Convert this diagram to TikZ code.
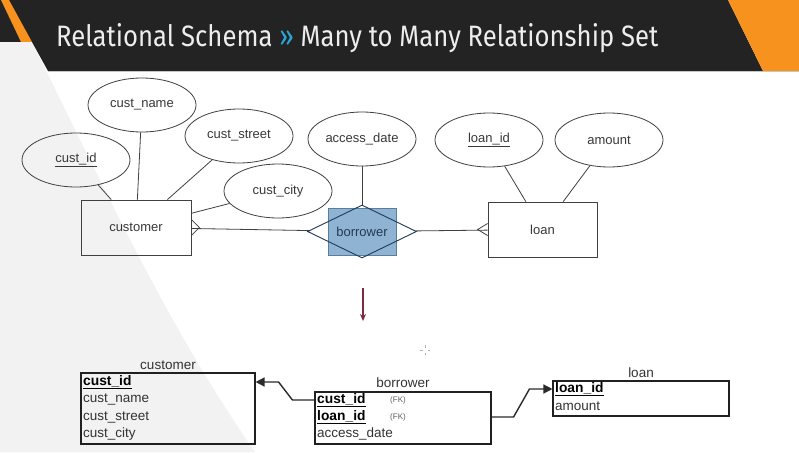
\documentclass[tikz,border=0pt]{standalone}
\usepackage{graphicx}
\usepackage{fontspec}
\setmainfont{Liberation Sans}
\newfontfamily\titlefont{Fira Sans}
\usetikzlibrary{shapes.geometric,arrows.meta,calc}
\definecolor{bannerdark}{HTML}{232323}
\definecolor{orangec}{HTML}{F8921E}
\definecolor{titlewhite}{HTML}{EDEDED}
\definecolor{chev}{HTML}{2BA8D8}
\definecolor{bggray}{HTML}{F2F2F2}
\definecolor{erline}{HTML}{404040}
\definecolor{ertext}{HTML}{383838}
\definecolor{relblue}{HTML}{8FB3D3}
\definecolor{relborder}{HTML}{5A7D9C}
\definecolor{diamline}{HTML}{1F3B57}
\definecolor{diamtext}{HTML}{233A52}
\definecolor{tabline}{HTML}{202020}
\definecolor{tabtext}{HTML}{333333}
\definecolor{fkcol}{HTML}{2A2A2A}
\definecolor{arrowred}{HTML}{7D2B3C}
\begin{document}
\begin{tikzpicture}[x=1pt,y=-1pt,
  attr/.style={ellipse, draw=erline, line width=0.8pt, minimum width=108pt, minimum height=54pt, inner sep=0pt, font=\fontsize{13}{15}\selectfont, text=ertext},
  ent/.style={rectangle, draw=erline, line width=0.8pt, minimum width=110pt, minimum height=55pt, inner sep=0pt, font=\fontsize{13}{15}\selectfont, text=ertext},
  erl/.style={draw=erline, line width=0.8pt},
  tab/.style={rectangle, draw=tabline, line width=1.1pt, inner sep=0pt},
  row/.style={anchor=west, inner sep=0pt, text height=10pt, text depth=3pt, font=\fontsize{13.5}{15}\selectfont, text=tabtext},
  keyrow/.style={row, font=\bfseries\fontsize{13.8}{15}\selectfont, text=black},
  tlabel/.style={inner sep=0pt, font=\fontsize{13.5}{15}\selectfont, text=tabtext},
  fk/.style={inner sep=0pt, font=\fontsize{8}{9}\selectfont, text=tabtext!80},
  fkline/.style={draw=fkcol, line width=1.4pt}
]
\useasboundingbox (0,0) rectangle (799,452);
\fill[white] (0,0) rectangle (799,452);
% background
\fill[bggray] (0,42) -- (32,42) .. controls (110,200) and (170,330) .. (255,452) -- (0,452) -- cycle;
% banner
\fill[bannerdark] (0,0) -- (728,0) -- (763,71) -- (48,71) -- (32,42) -- (0,42) -- cycle;
\fill[orangec] (1,0) -- (9,0) -- (32,42) -- (21,42) -- cycle;
\fill[orangec] (728,0) -- (799,0) -- (799,71) -- (763,71) -- cycle;
\draw[gray!45, line width=1pt] (48,71.8) -- (799,71.8);
\node[anchor=base west, inner sep=0pt, text=titlewhite] (title) at (56,46)
  {\resizebox{602pt}{23pt}{\titlefont Relational Schema \textcolor{chev}{»} Many to Many Relationship Set}};

% ER diagram
\node[attr] (cid) at (76,160) {\underline{cust\_id}};
\node[attr] (cname) at (142,105) {cust\_name};
\node[attr] (cstreet) at (239,136) {cust\_street};
\node[attr] (ccity) at (278,191) {cust\_city};
\node[attr] (adate) at (362,139) {access\_date};
\node[attr] (lid) at (489,140) {\underline{loan\_id}};
\node[attr] (amt) at (609,140) {amount};
\node[ent] (cust) at (136,227.5) {customer};
\node[ent, minimum width=109pt] (loan) at (542.5,229.5) {loan};
\node[fill=relblue, draw=relborder, line width=0.8pt, minimum width=68pt, minimum height=47pt, inner sep=0pt] (bbox) at (362,231.5) {};
\node[diamond, draw=diamline, line width=0.9pt, minimum width=109pt, minimum height=53pt, inner sep=0pt] (borr) at (362,231.5) {};
\node[font=\fontsize{13}{15}\selectfont, text=diamtext, inner sep=0pt] (borrtxt) at (borr) {borrower};

\draw[erl] (cid) -- (cust);
\draw[erl] (cname) -- (cust);
\draw[erl] (cstreet) -- (cust);
\draw[erl] (ccity) -- (cust);
\draw[erl] (adate) -- (borr);
\draw[erl] (lid) -- (loan);
\draw[erl] (amt) -- (loan);
\draw[erl] (cust) -- (borr);
\draw[erl] (borr) -- (loan);
\coordinate (cfa) at ($(cust.east)+(8,0)$);
\draw[erl] ($(cust.east)+(0,-8)$) -- (cfa) -- ($(cust.east)+(0,8)$);
\coordinate (lfa) at ($(loan.west)+(-10,0)$);
\draw[erl] ($(loan.west)+(0,-6)$) -- (lfa) -- ($(loan.west)+(0,6)$);

% down arrow
\coordinate (da1) at (363,288);
\coordinate (da2) at (363,321);
\draw[draw=arrowred, line width=1.6pt, -{Stealth[length=7pt,width=6pt]}] (da1) -- (da2);

% cursor mark
\draw[gray!60, line width=0.5pt] (425,345) -- (425,347.5) (425,352.5) -- (425,355) (420,350) -- (422.5,350) (427.5,350) -- (430,350);

% customer table
\node[tab, minimum width=174pt, minimum height=71pt] (ctab) at (168,408.5) {};
\node[tlabel] (ctl) at (168,365) {customer};
\node[keyrow] (ccid) at (83,382) {\underline{cust\_id}};
\node[row] (ccn) at (83,399) {cust\_name};
\node[row] (ccs) at (83,416.5) {cust\_street};
\node[row] (ccc) at (83,433.5) {cust\_city};

% borrower table
\node[tab, minimum width=176pt, minimum height=52pt] (btab) at (403,418) {};
\node[tlabel] (btl) at (403,383) {borrower};
\node[keyrow] (bcid) at (317,400) {\underline{cust\_id}};
\node[fk] (bfk1) at (398,400) {(FK)};
\node[keyrow] (blid) at (317,417) {\underline{loan\_id}};
\node[fk] (bfk2) at (398,417) {(FK)};
\node[row] (bad) at (317,434) {access\_date};

% loan table
\node[tab, minimum width=176pt, minimum height=35pt] (ltab) at (641,398.5) {};
\node[tlabel] (ltl) at (641,373) {loan};
\node[keyrow] (llid) at (555,389) {\underline{loan\_id}};
\node[row] (lam) at (555,407) {amount};

% foreign key connectors
\draw[fkline, -{Triangle[length=9pt,width=9pt]}] (btab.west |- bcid) -- ++(-22,0) -- ($(ctab.east |- ccid)+(23,0)$) -- (ctab.east |- ccid);
\draw[fkline, -{Triangle[length=9pt,width=9pt]}] (btab.east |- blid) -- ++(22,0) -- ($(ltab.west |- llid)+(-23,0)$) -- (ltab.west |- llid);
\end{tikzpicture}
\end{document}
